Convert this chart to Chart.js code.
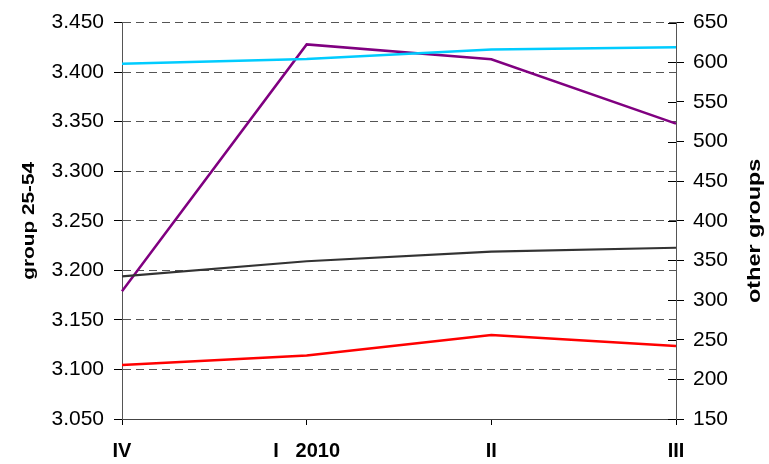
<!DOCTYPE html>
<html>
<head>
<meta charset="utf-8">
<script src="https://cdn.jsdelivr.net/npm/chart.js@4/dist/chart.umd.min.js"></script>
<style>
  html, body { margin: 0; padding: 0; background: #fff; }
  #wrap { width: 769px; height: 464px; }
</style>
</head>
<body>
<div id="wrap"><canvas id="chart" width="769" height="464"></canvas></div>
<script>
// dados
const quarters = ['IV', 'I   2010', 'II', 'III'];
const group2554 = [3.179, 3.428, 3.413, 3.348];     // eixo esquerdo
const otherCyan = [598, 604, 616, 619];             // eixo direito
const otherGray = [330, 349, 361, 366];
const otherRed = [218, 230, 256, 242];

const leftTicks = { min: 3.05, max: 3.45, step: 0.05 };
const rightTicks = { min: 150, max: 650, step: 50 };

const FONT = "'Liberation Sans', Arial, sans-serif";

// títulos dos eixos (os dois lidos de baixo para cima)
const axisTitles = {
    id: 'axisTitles',
    afterDraw(chart) {
        const ctx = chart.ctx;
        const area = chart.chartArea;
        const drawTitle = (text, x, y, size) => {
            ctx.save();
            ctx.translate(x, y);
            ctx.rotate(-Math.PI / 2);
            ctx.scale(1.3, 1);
            ctx.font = 'bold ' + size + 'px ' + FONT;
            ctx.fillStyle = '#000';
            ctx.textAlign = 'center';
            ctx.textBaseline = 'middle';
            ctx.fillText(text, 0, 0);
            ctx.restore();
        };
        const mid = (area.top + area.bottom) / 2;
        drawTitle('group 25-54', 30, mid, 16);
        drawTitle('other groups', 755, mid + 10, 18);

        // marcas do eixo direito atravessam a linha
        const y2 = chart.scales.y2;
        ctx.save();
        ctx.strokeStyle = '#000';
        ctx.lineWidth = 1;
        y2.ticks.forEach(t => {
            const py = Math.round(y2.getPixelForValue(t.value)) + 0.5;
            ctx.beginPath();
            ctx.moveTo(y2.left - 8, py);
            ctx.lineTo(y2.left, py);
            ctx.stroke();
        });
        ctx.restore();
    }
};

const lineStyle = (color, width) => ({
    borderColor: color,
    backgroundColor: color,
    borderWidth: width,
    pointRadius: 0,
    tension: 0,
    fill: false
});

new Chart(document.getElementById('chart'), {
    type: 'line',
    data: {
        labels: quarters,
        datasets: [
            Object.assign({ label: 'other 1', data: otherCyan, yAxisID: 'y2' }, lineStyle('#00ccff', 2.5)),
            Object.assign({ label: 'other 2', data: otherGray, yAxisID: 'y2' }, lineStyle('#333333', 2.2)),
            Object.assign({ label: 'other 3', data: otherRed, yAxisID: 'y2' }, lineStyle('#ff0000', 2.5)),
            Object.assign({ label: 'group 25-54', data: group2554, yAxisID: 'y' }, lineStyle('#800080', 2.5))
        ]
    },
    options: {
        responsive: false,
        animation: false,
        layout: { padding: { top: 20, left: 0, right: 0, bottom: 0 } },
        plugins: {
            legend: { display: false },
            tooltip: { enabled: false }
        },
        scales: {
            x: {
                offset: false,
                grid: { drawOnChartArea: false, drawTicks: true, tickLength: 6, tickColor: '#000', color: '#000' },
                border: { color: '#444', width: 1 },
                ticks: {
                    color: '#000',
                    font: { family: FONT, size: 20, weight: 'bold' },
                    padding: 14,
                    maxRotation: 0,
                    autoSkip: false
                },
                afterFit(scale) { scale.height = 45; }
            },
            y: {
                position: 'left',
                min: leftTicks.min,
                max: leftTicks.max,
                grid: {
                    color: '#555',
                    lineWidth: 1,
                    drawTicks: true,
                    tickLength: 8,
                    tickColor: '#000',
                    tickBorderDash: []
                },
                border: { color: '#555', width: 1, dash: [8, 5] },
                ticks: {
                    stepSize: leftTicks.step,
                    color: '#000',
                    font: { family: FONT, size: 21 },
                    padding: 10,
                    callback: v => v.toFixed(3)
                },
                afterFit(scale) { scale.width = 122; }
            },
            y2: {
                position: 'right',
                min: rightTicks.min,
                max: rightTicks.max,
                grid: { drawOnChartArea: false, drawTicks: true, tickLength: 8, tickColor: '#000' },
                border: { color: '#555', width: 1 },
                ticks: {
                    stepSize: rightTicks.step,
                    color: '#000',
                    font: { family: FONT, size: 21 },
                    padding: 9
                },
                afterFit(scale) { scale.width = 93; }
            }
        }
    },
    plugins: [axisTitles]
});
</script>
</body>
</html>
